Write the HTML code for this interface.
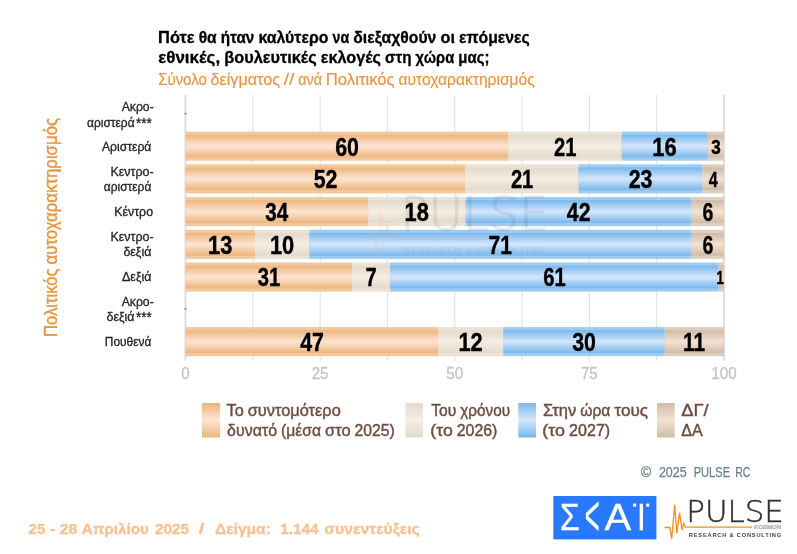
<!DOCTYPE html>
<html lang="el">
<head>
<meta charset="utf-8">
<title>Πότε θα ήταν καλύτερο να διεξαχθούν οι επόμενες εθνικές, βουλευτικές εκλογές</title>
<style>
html,body{margin:0;padding:0;background:#fff;}
body{width:797px;height:554px;overflow:hidden;font-family:"Liberation Sans","DejaVu Sans",sans-serif;}
svg{display:block;}
</style>
</head>
<body>
<svg width="797" height="554" viewBox="0 0 797 554" font-family="'Liberation Sans', 'DejaVu Sans', sans-serif">
<defs>
<linearGradient id="go" x1="0" y1="0" x2="0" y2="1"><stop offset="0" stop-color="#ecb57c"/><stop offset="0.5" stop-color="#fde5d3"/><stop offset="1" stop-color="#ecb57c"/></linearGradient>
<linearGradient id="gg" x1="0" y1="0" x2="0" y2="1"><stop offset="0" stop-color="#e3dacd"/><stop offset="0.5" stop-color="#f6ede3"/><stop offset="1" stop-color="#e3dacd"/></linearGradient>
<linearGradient id="gb" x1="0" y1="0" x2="0" y2="1"><stop offset="0" stop-color="#78b7ec"/><stop offset="0.5" stop-color="#d6e7fb"/><stop offset="1" stop-color="#78b7ec"/></linearGradient>
<linearGradient id="gn" x1="0" y1="0" x2="0" y2="1"><stop offset="0" stop-color="#cfbba6"/><stop offset="0.5" stop-color="#f3e2d2"/><stop offset="1" stop-color="#cfbba6"/></linearGradient>
</defs>
<rect width="797" height="554" fill="#fff"/>
<g id="title" stroke-width="0.3" stroke-linejoin="round">
<text y="43.00" font-size="16.3" font-weight="700" fill="#000" stroke="#000"><tspan x="158.10" textLength="36.50" lengthAdjust="spacingAndGlyphs">Πότε</tspan> <tspan x="198.70" textLength="17.98" lengthAdjust="spacingAndGlyphs">θα</tspan> <tspan x="220.78" textLength="33.59" lengthAdjust="spacingAndGlyphs">ήταν</tspan> <tspan x="258.47" textLength="69.95" lengthAdjust="spacingAndGlyphs">καλύτερο</tspan> <tspan x="332.52" textLength="16.67" lengthAdjust="spacingAndGlyphs">να</tspan> <tspan x="353.29" textLength="83.09" lengthAdjust="spacingAndGlyphs">διεξαχθούν</tspan> <tspan x="440.50" textLength="14.41" lengthAdjust="spacingAndGlyphs">οι</tspan> <tspan x="459.01" textLength="70.79" lengthAdjust="spacingAndGlyphs">επόμενες</tspan></text>
<text y="63.20" font-size="16.3" font-weight="700" fill="#000" stroke="#000"><tspan x="158.20" textLength="61.92" lengthAdjust="spacingAndGlyphs">εθνικές,</tspan> <tspan x="224.22" textLength="92.51" lengthAdjust="spacingAndGlyphs">βουλευτικές</tspan> <tspan x="320.83" textLength="60.16" lengthAdjust="spacingAndGlyphs">εκλογές</tspan> <tspan x="385.10" textLength="26.29" lengthAdjust="spacingAndGlyphs">στη</tspan> <tspan x="415.51" textLength="38.71" lengthAdjust="spacingAndGlyphs">χώρα</tspan> <tspan x="458.32" textLength="31.08" lengthAdjust="spacingAndGlyphs">μας;</tspan></text>
<text y="84.80" font-size="15.8" fill="#e9953f" stroke="#e9953f" stroke-width="0.15"><tspan x="158.20" textLength="48.57" lengthAdjust="spacingAndGlyphs">Σύνολο</tspan> <tspan x="210.62" textLength="69.32" lengthAdjust="spacingAndGlyphs">δείγματος</tspan> <tspan x="283.79" textLength="10.62" lengthAdjust="spacingAndGlyphs">//</tspan> <tspan x="298.27" textLength="23.68" lengthAdjust="spacingAndGlyphs">ανά</tspan> <tspan x="325.80" textLength="68.87" lengthAdjust="spacingAndGlyphs">Πολιτικός</tspan> <tspan x="398.52" textLength="136.28" lengthAdjust="spacingAndGlyphs">αυτοχαρακτηρισμός</tspan></text>
</g>
<g id="grid">
<rect x="184.50" y="94.8" width="2" height="266" fill="#dedede"/>
<rect x="252.21" y="94.8" width="1.2" height="266" fill="#e4e4e4"/>
<rect x="319.52" y="94.8" width="1.2" height="266" fill="#e4e4e4"/>
<rect x="386.84" y="94.8" width="1.2" height="266" fill="#e4e4e4"/>
<rect x="454.15" y="94.8" width="1.2" height="266" fill="#e4e4e4"/>
<rect x="521.46" y="94.8" width="1.2" height="266" fill="#e4e4e4"/>
<rect x="588.77" y="94.8" width="1.2" height="266" fill="#e4e4e4"/>
<rect x="656.09" y="94.8" width="1.2" height="266" fill="#e4e4e4"/>
<rect x="723.00" y="94.8" width="2" height="266" fill="#dedede"/>
</g>
<g id="bars">
<rect x="185.50" y="131.60" width="323.10" height="29.1" fill="#f2c89c"/>
<rect x="185.50" y="134.80" width="323.10" height="22.70" fill="url(#go)"/>
<rect x="508.60" y="131.60" width="113.08" height="29.1" fill="#ebe3d8"/>
<rect x="508.60" y="134.80" width="113.08" height="22.70" fill="url(#gg)"/>
<rect x="621.68" y="131.60" width="86.16" height="29.1" fill="#9dcbf1"/>
<rect x="621.68" y="134.80" width="86.16" height="22.70" fill="url(#gb)"/>
<rect x="707.85" y="131.60" width="16.15" height="29.1" fill="#dccfc0"/>
<rect x="707.85" y="134.80" width="16.15" height="22.70" fill="url(#gn)"/>
<rect x="185.50" y="164.30" width="280.02" height="29.1" fill="#f2c89c"/>
<rect x="185.50" y="167.50" width="280.02" height="22.70" fill="url(#go)"/>
<rect x="465.52" y="164.30" width="113.09" height="29.1" fill="#ebe3d8"/>
<rect x="465.52" y="167.50" width="113.09" height="22.70" fill="url(#gg)"/>
<rect x="578.61" y="164.30" width="123.86" height="29.1" fill="#9dcbf1"/>
<rect x="578.61" y="167.50" width="123.86" height="22.70" fill="url(#gb)"/>
<rect x="702.46" y="164.30" width="21.54" height="29.1" fill="#dccfc0"/>
<rect x="702.46" y="167.50" width="21.54" height="22.70" fill="url(#gn)"/>
<rect x="185.50" y="197.10" width="183.09" height="29.1" fill="#f2c89c"/>
<rect x="185.50" y="200.30" width="183.09" height="22.70" fill="url(#go)"/>
<rect x="368.59" y="197.10" width="96.93" height="29.1" fill="#ebe3d8"/>
<rect x="368.59" y="200.30" width="96.93" height="22.70" fill="url(#gg)"/>
<rect x="465.52" y="197.10" width="226.17" height="29.1" fill="#9dcbf1"/>
<rect x="465.52" y="200.30" width="226.17" height="22.70" fill="url(#gb)"/>
<rect x="691.69" y="197.10" width="32.31" height="29.1" fill="#dccfc0"/>
<rect x="691.69" y="200.30" width="32.31" height="22.70" fill="url(#gn)"/>
<rect x="185.50" y="229.80" width="70.00" height="29.1" fill="#f2c89c"/>
<rect x="185.50" y="233.00" width="70.00" height="22.70" fill="url(#go)"/>
<rect x="255.50" y="229.80" width="53.85" height="29.1" fill="#ebe3d8"/>
<rect x="255.50" y="233.00" width="53.85" height="22.70" fill="url(#gg)"/>
<rect x="309.36" y="229.80" width="382.34" height="29.1" fill="#9dcbf1"/>
<rect x="309.36" y="233.00" width="382.34" height="22.70" fill="url(#gb)"/>
<rect x="691.69" y="229.80" width="32.31" height="29.1" fill="#dccfc0"/>
<rect x="691.69" y="233.00" width="32.31" height="22.70" fill="url(#gn)"/>
<rect x="185.50" y="262.50" width="166.94" height="29.1" fill="#f2c89c"/>
<rect x="185.50" y="265.70" width="166.94" height="22.70" fill="url(#go)"/>
<rect x="352.44" y="262.50" width="37.69" height="29.1" fill="#ebe3d8"/>
<rect x="352.44" y="265.70" width="37.69" height="22.70" fill="url(#gg)"/>
<rect x="390.13" y="262.50" width="328.49" height="29.1" fill="#9dcbf1"/>
<rect x="390.13" y="265.70" width="328.49" height="22.70" fill="url(#gb)"/>
<rect x="718.62" y="262.50" width="5.38" height="29.1" fill="#dccfc0"/>
<rect x="718.62" y="265.70" width="5.38" height="22.70" fill="url(#gn)"/>
<rect x="185.50" y="327.10" width="253.10" height="29.1" fill="#f2c89c"/>
<rect x="185.50" y="330.30" width="253.10" height="22.70" fill="url(#go)"/>
<rect x="438.60" y="327.10" width="64.62" height="29.1" fill="#ebe3d8"/>
<rect x="438.60" y="330.30" width="64.62" height="22.70" fill="url(#gg)"/>
<rect x="503.21" y="327.10" width="161.55" height="29.1" fill="#9dcbf1"/>
<rect x="503.21" y="330.30" width="161.55" height="22.70" fill="url(#gb)"/>
<rect x="664.76" y="327.10" width="59.24" height="29.1" fill="#dccfc0"/>
<rect x="664.76" y="330.30" width="59.24" height="22.70" fill="url(#gn)"/>
<rect x="184.6" y="112.9" width="1.6" height="1.4" fill="#666"/>
<rect x="184.6" y="308.2" width="1.6" height="1.4" fill="#666"/>
</g>
<g id="watermark" opacity="0.09">
<path d="M367.5 239.2h7l2.2 14 4-42 3 34 3.6-24.5 3 20.8 2.2-8 2.4 5.7H489" fill="none" stroke="#e98a24" stroke-width="1.6"/>
<text x="400.5" y="230.2" font-family="'DejaVu Sans Light', 'DejaVu Sans', sans-serif" font-weight="200" font-size="46.5" fill="#333" stroke="#333" stroke-width="1.3" textLength="148" lengthAdjust="spacingAndGlyphs">PULSE</text>
<text x="404" y="253.3" font-size="9.4" fill="#333" textLength="140" lengthAdjust="spacing">RESEARCH &amp; CONSULTING</text>
</g>
<g id="datalabels" font-weight="700" fill="#000" stroke="#000" stroke-width="0.4" stroke-linejoin="round">
<text x="335.25" y="155.58" font-size="25.5" textLength="23.75" lengthAdjust="spacingAndGlyphs">60</text>
<text x="553.99" y="155.58" font-size="25.5" textLength="22.44" lengthAdjust="spacingAndGlyphs">21</text>
<text x="652.26" y="155.58" font-size="25.5" textLength="24.31" lengthAdjust="spacingAndGlyphs">16</text>
<text x="711.32" y="153.79" font-size="20.5" textLength="9.54" lengthAdjust="spacingAndGlyphs">3</text>
<text x="313.71" y="188.28" font-size="25.5" textLength="23.75" lengthAdjust="spacingAndGlyphs">52</text>
<text x="510.91" y="188.28" font-size="25.5" textLength="22.44" lengthAdjust="spacingAndGlyphs">21</text>
<text x="628.73" y="188.28" font-size="25.5" textLength="23.75" lengthAdjust="spacingAndGlyphs">23</text>
<text x="708.73" y="186.85" font-size="21.5" textLength="8.97" lengthAdjust="spacingAndGlyphs">4</text>
<text x="265.25" y="221.08" font-size="25.5" textLength="22.94" lengthAdjust="spacingAndGlyphs">34</text>
<text x="404.55" y="221.08" font-size="25.5" textLength="24.31" lengthAdjust="spacingAndGlyphs">18</text>
<text x="566.81" y="221.08" font-size="25.5" textLength="23.75" lengthAdjust="spacingAndGlyphs">42</text>
<text x="702.50" y="221.08" font-size="25.5" textLength="10.84" lengthAdjust="spacingAndGlyphs">6</text>
<text x="208.00" y="253.78" font-size="25.5" textLength="24.31" lengthAdjust="spacingAndGlyphs">13</text>
<text x="269.92" y="253.78" font-size="25.5" textLength="24.31" lengthAdjust="spacingAndGlyphs">10</text>
<text x="488.55" y="253.78" font-size="25.5" textLength="23.27" lengthAdjust="spacingAndGlyphs">71</text>
<text x="702.50" y="253.78" font-size="25.5" textLength="10.84" lengthAdjust="spacingAndGlyphs">6</text>
<text x="257.82" y="286.48" font-size="25.5" textLength="22.44" lengthAdjust="spacingAndGlyphs">31</text>
<text x="365.40" y="286.48" font-size="25.5" textLength="11.13" lengthAdjust="spacingAndGlyphs">7</text>
<text x="543.22" y="286.48" font-size="25.5" textLength="22.44" lengthAdjust="spacingAndGlyphs">61</text>
<text x="716.50" y="283.97" font-size="18.5" textLength="7.32" lengthAdjust="spacingAndGlyphs">1</text>
<text x="300.25" y="351.08" font-size="25.5" textLength="23.75" lengthAdjust="spacingAndGlyphs">47</text>
<text x="458.40" y="351.08" font-size="25.5" textLength="24.31" lengthAdjust="spacingAndGlyphs">12</text>
<text x="572.19" y="351.08" font-size="25.5" textLength="23.75" lengthAdjust="spacingAndGlyphs">30</text>
<text x="682.96" y="351.08" font-size="25.5" textLength="22.17" lengthAdjust="spacingAndGlyphs">11</text>
</g>
<g id="xaxis" fill="#c4c4c4" stroke="#c4c4c4" stroke-width="0.3">
<text x="185.50" y="379.4" font-size="17.33" text-anchor="middle" textLength="8.45" lengthAdjust="spacingAndGlyphs">0</text>
<text x="320.12" y="379.4" font-size="17.33" text-anchor="middle" textLength="16.90" lengthAdjust="spacingAndGlyphs">25</text>
<text x="454.75" y="379.4" font-size="17.33" text-anchor="middle" textLength="16.90" lengthAdjust="spacingAndGlyphs">50</text>
<text x="589.38" y="379.4" font-size="17.33" text-anchor="middle" textLength="16.90" lengthAdjust="spacingAndGlyphs">75</text>
<text x="724.00" y="379.4" font-size="17.33" text-anchor="middle" textLength="25.35" lengthAdjust="spacingAndGlyphs">100</text>
</g>
<g id="categories">
<text y="110.90" font-size="13" fill="#222" stroke="#222" stroke-width="0.3"><tspan x="121.70" textLength="32.01" lengthAdjust="spacingAndGlyphs">Ακρο-</tspan></text>
<text y="126.50" font-size="13" fill="#222" stroke="#222" stroke-width="0.3"><tspan x="87.00" textLength="47.55" lengthAdjust="spacingAndGlyphs">αριστερά</tspan><tspan x="136.00" textLength="15.73" font-size="15.5" dy="1.0" lengthAdjust="spacingAndGlyphs">***</tspan></text>
<text y="151.20" font-size="13" fill="#222" stroke="#222" stroke-width="0.3"><tspan x="101.90" textLength="49.45" lengthAdjust="spacingAndGlyphs">Αριστερά</tspan></text>
<text y="176.20" font-size="13" fill="#222" stroke="#222" stroke-width="0.3"><tspan x="110.44" textLength="43.28" lengthAdjust="spacingAndGlyphs">Κεντρο-</tspan></text>
<text y="191.40" font-size="13" fill="#222" stroke="#222" stroke-width="0.3"><tspan x="103.80" textLength="47.55" lengthAdjust="spacingAndGlyphs">αριστερά</tspan></text>
<text y="216.10" font-size="13" fill="#222" stroke="#222" stroke-width="0.3"><tspan x="114.25" textLength="38.77" lengthAdjust="spacingAndGlyphs">Κέντρο</tspan></text>
<text y="241.20" font-size="13" fill="#222" stroke="#222" stroke-width="0.3"><tspan x="110.44" textLength="43.28" lengthAdjust="spacingAndGlyphs">Κεντρο-</tspan></text>
<text y="256.30" font-size="13" fill="#222" stroke="#222" stroke-width="0.3"><tspan x="123.40" textLength="27.94" lengthAdjust="spacingAndGlyphs">δεξιά</tspan></text>
<text y="281.10" font-size="13" fill="#222" stroke="#222" stroke-width="0.3"><tspan x="122.10" textLength="29.24" lengthAdjust="spacingAndGlyphs">Δεξιά</tspan></text>
<text y="306.30" font-size="13" fill="#222" stroke="#222" stroke-width="0.3"><tspan x="121.70" textLength="32.01" lengthAdjust="spacingAndGlyphs">Ακρο-</tspan></text>
<text y="321.30" font-size="13" fill="#222" stroke="#222" stroke-width="0.3"><tspan x="106.60" textLength="27.94" lengthAdjust="spacingAndGlyphs">δεξιά</tspan><tspan x="136.00" textLength="15.63" font-size="15.5" dy="1.0" lengthAdjust="spacingAndGlyphs">***</tspan></text>
<text y="346.20" font-size="13" fill="#222" stroke="#222" stroke-width="0.3"><tspan x="104.78" textLength="46.57" lengthAdjust="spacingAndGlyphs">Πουθενά</tspan></text>
</g>
<text transform="translate(57.2 336.9) rotate(-90)" font-size="18" fill="#e9953f" stroke="#e9953f" stroke-width="0.4"><tspan x="0" textLength="68.5" lengthAdjust="spacingAndGlyphs">Πολιτικός</tspan> <tspan x="72.4" textLength="146.6" lengthAdjust="spacingAndGlyphs">αυτοχαρακτηρισμός</tspan></text>
<g id="legend">
<rect x="202" y="403" width="18.00" height="34.5" fill="url(#go)"/>
<rect x="405.5" y="403" width="17.50" height="34.5" fill="url(#gg)"/>
<rect x="518.3" y="403" width="17.70" height="34.5" fill="url(#gb)"/>
<rect x="657" y="403" width="17.70" height="34.5" fill="url(#gn)"/>
<text y="415.80" font-size="17.33" fill="#6e4d42" stroke="#6e4d42" stroke-width="0.45"><tspan x="226.50" textLength="17.16" lengthAdjust="spacingAndGlyphs">Το</tspan> <tspan x="247.69" textLength="93.11" lengthAdjust="spacingAndGlyphs">συντομότερο</tspan></text>
<text y="435.80" font-size="17.33" fill="#6e4d42" stroke="#6e4d42" stroke-width="0.45"><tspan x="227.10" textLength="49.96" lengthAdjust="spacingAndGlyphs">δυνατό</tspan> <tspan x="281.08" textLength="39.94" lengthAdjust="spacingAndGlyphs">(μέσα</tspan> <tspan x="325.03" textLength="25.53" lengthAdjust="spacingAndGlyphs">στο</tspan> <tspan x="354.58" textLength="40.22" lengthAdjust="spacingAndGlyphs">2025)</tspan></text>
<text y="415.80" font-size="17.33" fill="#6e4d42" stroke="#6e4d42" stroke-width="0.45"><tspan x="431.30" textLength="25.05" lengthAdjust="spacingAndGlyphs">Του</tspan> <tspan x="460.29" textLength="49.71" lengthAdjust="spacingAndGlyphs">χρόνου</tspan></text>
<text y="435.80" font-size="17.33" fill="#6e4d42" stroke="#6e4d42" stroke-width="0.45"><tspan x="430.30" textLength="22.43" lengthAdjust="spacingAndGlyphs">(το</tspan> <tspan x="456.79" textLength="40.61" lengthAdjust="spacingAndGlyphs">2026)</tspan></text>
<text y="415.80" font-size="17.33" fill="#6e4d42" stroke="#6e4d42" stroke-width="0.45"><tspan x="542.90" textLength="33.34" lengthAdjust="spacingAndGlyphs">Στην</tspan> <tspan x="580.28" textLength="30.07" lengthAdjust="spacingAndGlyphs">ώρα</tspan> <tspan x="614.40" textLength="33.60" lengthAdjust="spacingAndGlyphs">τους</tspan></text>
<text y="435.80" font-size="17.33" fill="#6e4d42" stroke="#6e4d42" stroke-width="0.45"><tspan x="542.30" textLength="22.70" lengthAdjust="spacingAndGlyphs">(το</tspan> <tspan x="569.10" textLength="41.10" lengthAdjust="spacingAndGlyphs">2027)</tspan></text>
<text y="415.80" font-size="17.33" fill="#6e4d42" stroke="#6e4d42" stroke-width="0.45"><tspan x="681.20" textLength="27.40" lengthAdjust="spacingAndGlyphs">ΔΓ/</tspan></text>
<text y="435.80" font-size="17.33" fill="#6e4d42" stroke="#6e4d42" stroke-width="0.45"><tspan x="681.20" textLength="21.40" lengthAdjust="spacingAndGlyphs">ΔΑ</tspan></text>
</g>
<text y="476.70" font-size="14" fill="#6a808e" stroke="#6a808e" stroke-width="0.25"><tspan x="641.10" textLength="10.03" lengthAdjust="spacingAndGlyphs">©</tspan> <tspan x="658.90" textLength="27.81" lengthAdjust="spacingAndGlyphs">2025</tspan> <tspan x="693.71" textLength="36.36" lengthAdjust="spacingAndGlyphs">PULSE</tspan> <tspan x="735.25" textLength="15.24" lengthAdjust="spacingAndGlyphs">RC</tspan></text>
<text y="533.60" font-size="15.1" font-weight="700" fill="#f9c091" stroke="#f9c091" stroke-width="0.3"><tspan x="28.55" textLength="16.69" lengthAdjust="spacingAndGlyphs">25</tspan> <tspan x="50.15" textLength="4.93" lengthAdjust="spacingAndGlyphs">-</tspan> <tspan x="59.85" textLength="17.51" lengthAdjust="spacingAndGlyphs">28</tspan> <tspan x="81.65" textLength="67.28" lengthAdjust="spacingAndGlyphs">Απριλίου</tspan> <tspan x="154.95" textLength="34.10" lengthAdjust="spacingAndGlyphs">2025</tspan> <tspan x="198.75" textLength="5.62" lengthAdjust="spacingAndGlyphs">/</tspan> <tspan x="214.95" textLength="55.96" lengthAdjust="spacingAndGlyphs">Δείγμα:</tspan> <tspan x="280.25" textLength="38.19" lengthAdjust="spacingAndGlyphs">1.144</tspan> <tspan x="324.35" textLength="95.34" lengthAdjust="spacingAndGlyphs">συνεντεύξεις</tspan></text>
<g id="skai" aria-label="ΣΚΑΪ">
<title>ΣΚΑΪ</title>
<rect x="553.3" y="496" width="103.1" height="43.4" fill="#2979ff"/>
<text y="529.5" font-size="36.3" fill="#fff" stroke="#fff" stroke-width="0.3"><tspan x="559.92" textLength="19.74" lengthAdjust="spacingAndGlyphs">Σ</tspan><tspan x="584.82" y="535.1" font-size="58" textLength="14.90" lengthAdjust="spacingAndGlyphs">&lt;</tspan><tspan x="604.50" y="529.5" textLength="26.63" lengthAdjust="spacingAndGlyphs">Α</tspan><tspan x="637.08" textLength="8.82" lengthAdjust="spacingAndGlyphs">Ι</tspan></text>
<rect x="633.1" y="503.6" width="3.1" height="3.1" fill="#fff"/>
<rect x="646.1" y="503.6" width="3.1" height="3.1" fill="#fff"/>
</g>
<g id="pulse">
<path d="M664.6 527.5h5.2l1.9 11.5 3-34.3 2.1 28.5 2.8-20.4 2.4 17.2 1.7-6.6 1.8 3.8H752.2" fill="none" stroke="#f0901e" stroke-width="1.3" stroke-linejoin="miter"/>
<text x="686.3" y="521.8" font-family="'DejaVu Sans Light', 'DejaVu Sans', sans-serif" font-weight="200" font-size="30.6" fill="#333" stroke="#333" stroke-width="0.5" textLength="97.6" lengthAdjust="spacingAndGlyphs">PULSE</text>
<text x="754.1" y="529.3" font-size="5" font-weight="700" fill="#b8b8b8" stroke="#b8b8b8" stroke-width="0.35" textLength="27" lengthAdjust="spacingAndGlyphs">KOSMON</text>
<text x="688.8" y="537.4" font-size="5.7" font-weight="700" fill="#444" textLength="92.4" lengthAdjust="spacing">RESEARCH &amp; CONSULTING</text>
</g>
</svg>
</body>
</html>
